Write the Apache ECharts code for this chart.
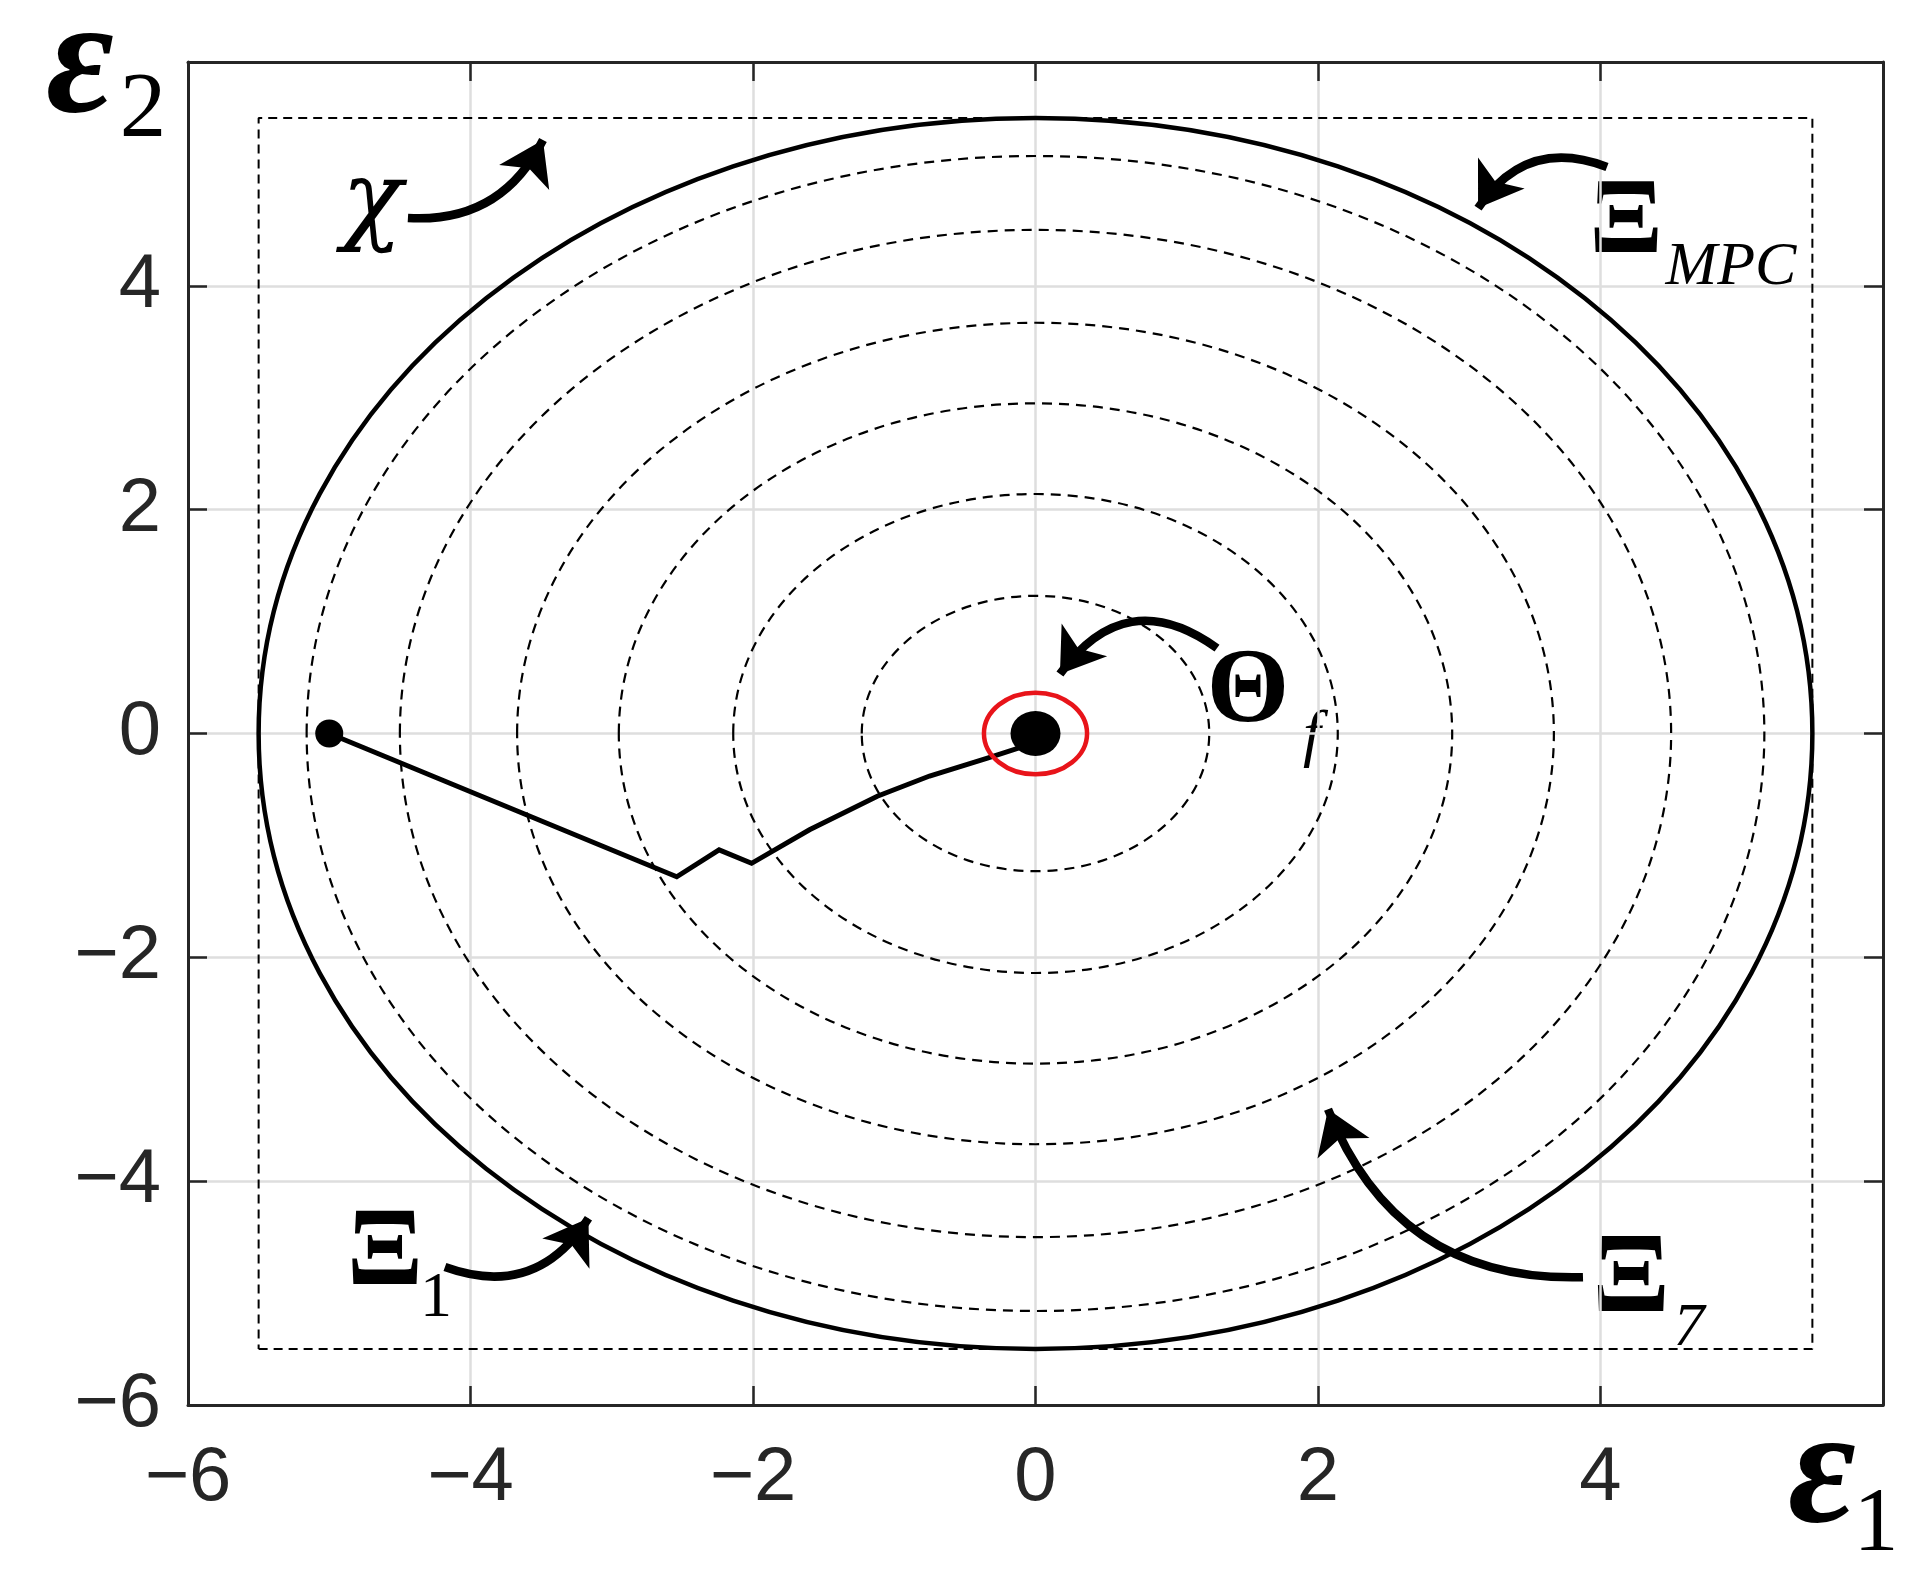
<!DOCTYPE html>
<html><head><meta charset="utf-8">
<script src="https://cdn.jsdelivr.net/npm/echarts@6/dist/echarts.min.js"></script>
<style>html,body{margin:0;padding:0;background:#fff}#c{width:1925px;height:1592px}</style>
</head><body><div id="c"></div>
<script>
// ---- data ----
const xTicks = [-6, -4, -2, 0, 2, 4, 6];
const yTicks = [-6, -4, -2, 0, 2, 4, 6];
const levelRadii = [1.23, 2.14, 2.95, 3.67, 4.50, 5.16];   // dashed level sets
const mpcRadius = [5.5];                                   // Ξ_MPC (solid)
const terminalRadius = [0.365];                            // Θ_f (red)
const boxX = [-5.5, 5.5, 5.5, -5.5, -5.5];                 // state constraint set X
const boxY = [-5.5, -5.5, 5.5, 5.5, -5.5];
const trajX = [-5.0, -2.54, -2.24, -2.01, -1.60, -1.12, -0.75, -0.34, -0.12, 0.0];
const trajY = [0.0, -1.28, -1.04, -1.16, -0.86, -0.56, -0.38, -0.22, -0.13, 0.0];
const startPoint = [-5.0, 0.0];
const endPoint = [0.0, 0.0];
// annotation arrows: from, to, curveness
const arrowFromX = [-4.443, 4.046, 1.285, -4.181, 3.876];
const arrowFromY = [4.606, 5.062, 0.763, -4.768, -4.858];
const arrowToX = [-3.487, 3.133, 0.173, -3.165, 2.071];
const arrowToY = [5.303, 4.695, 0.531, -4.331, -3.357];
const arrowCurve = [-0.33, -0.4, -0.5, -0.4, 0.35];

const fmt = v => (v === 6 ? '' : (v < 0 ? '\u2212' + Math.abs(v) : String(v)));
const axisCol = '#262626';

function ellipseItem(style) {
  return function (params, api) {
    const c = api.coord([0, 0]);
    const r = api.value(0);
    const s = api.size([r, r]);
    return { type: 'ellipse', shape: { cx: c[0], cy: c[1], rx: s[0], ry: s[1] }, style: style };
  };
}

const chart = echarts.init(document.getElementById('c'));
const baseX = { type: 'value', min: -6, max: 6, interval: 2 };
const baseY = { type: 'value', min: -6, max: 6, interval: 2 };
const serif = 'Liberation Serif, DejaVu Serif, serif';
chart.setOption({
  backgroundColor: '#fff',
  animation: false,
  grid: { left: 188, right: 42, top: 62, bottom: 187 },
  xAxis: [
    Object.assign({}, baseX, {
      position: 'bottom',
      axisLine: { show: true, onZero: false, lineStyle: { color: axisCol, width: 3 } },
      axisTick: { show: true, inside: true, length: 19, lineStyle: { color: axisCol, width: 2.5 } },
      axisLabel: { fontSize: 76, fontFamily: 'Liberation Sans', color: axisCol, margin: 36, formatter: fmt },
      splitLine: { show: true, lineStyle: { color: '#dedede', width: 2.5 } }
    }),
    Object.assign({}, baseX, {
      position: 'top',
      axisLine: { show: true, onZero: false, lineStyle: { color: axisCol, width: 3 } },
      axisTick: { show: true, inside: true, length: 19, lineStyle: { color: axisCol, width: 2.5 } },
      axisLabel: { show: false }, splitLine: { show: false }
    })
  ],
  yAxis: [
    Object.assign({}, baseY, {
      position: 'left',
      axisLine: { show: true, onZero: false, lineStyle: { color: axisCol, width: 3 } },
      axisTick: { show: true, inside: true, length: 19, lineStyle: { color: axisCol, width: 2.5 } },
      axisLabel: { fontSize: 76, fontFamily: 'Liberation Sans', color: axisCol, margin: 27, formatter: fmt, padding: [16, 0, 0, 0] },
      splitLine: { show: true, lineStyle: { color: '#dedede', width: 2.5 } }
    }),
    Object.assign({}, baseY, {
      position: 'right',
      axisLine: { show: true, onZero: false, lineStyle: { color: axisCol, width: 3 } },
      axisTick: { show: true, inside: true, length: 19, lineStyle: { color: axisCol, width: 2.5 } },
      axisLabel: { show: false }, splitLine: { show: false }
    })
  ],
  series: [
    { type: 'custom', coordinateSystem: 'cartesian2d', z: 2, silent: true,
      data: levelRadii.map(r => [r]),
      renderItem: ellipseItem({ fill: 'none', stroke: '#000', lineWidth: 2.2, lineDash: [10, 7] }) },
    { type: 'custom', coordinateSystem: 'cartesian2d', z: 3, silent: true,
      data: mpcRadius.map(r => [r]),
      renderItem: ellipseItem({ fill: 'none', stroke: '#000', lineWidth: 4.5 }) },
    { type: 'line', z: 3, silent: true, symbol: 'none',
      data: boxX.map((x, i) => [x, boxY[i]]),
      lineStyle: { color: '#000', width: 2, type: [9, 6] } },
    { type: 'line', z: 4, silent: true, symbol: 'none',
      data: trajX.map((x, i) => [x, trajY[i]]),
      lineStyle: { color: '#000', width: 5, join: 'miter' } },
    { type: 'scatter', z: 5, silent: true, symbol: 'circle', symbolSize: 28,
      itemStyle: { color: '#000', opacity: 1 }, data: [startPoint] },
    { type: 'custom', coordinateSystem: 'cartesian2d', z: 5, silent: true,
      data: terminalRadius.map(r => [r]),
      renderItem: ellipseItem({ fill: 'none', stroke: '#e8141a', lineWidth: 4.5 }) },
    { type: 'scatter', z: 6, silent: true, symbol: 'circle', symbolSize: [50, 45],
      itemStyle: { color: '#000', opacity: 1 }, data: [endPoint] },
    { type: 'lines', coordinateSystem: 'cartesian2d', z: 7, silent: true,
      symbol: ['none', 'arrow'], symbolSize: [0, 42],
      lineStyle: { color: '#000', width: 8.5, opacity: 1 },
      data: arrowFromX.map((x, i) => ({
        coords: [[x, arrowFromY[i]], [arrowToX[i], arrowToY[i]]],
        lineStyle: { curveness: arrowCurve[i] }
      })) }
  ],
  graphic: [
    { type: 'text', x: 80, y: 68, style: { text: '\u03b5', fontSize: 165, fontFamily: serif, fontWeight: 'bold', fontStyle: 'italic', fill: '#000', align: 'center', verticalAlign: 'middle' } },
    { type: 'text', x: 143, y: 112, style: { text: '2', fontSize: 93, fontFamily: serif, fill: '#000', align: 'center', verticalAlign: 'middle' } },
    { type: 'text', x: 1822, y: 1478, style: { text: '\u03b5', fontSize: 165, fontFamily: serif, fontWeight: 'bold', fontStyle: 'italic', fill: '#000', align: 'center', verticalAlign: 'middle' } },
    { type: 'text', x: 1876, y: 1526, style: { text: '1', fontSize: 90, fontFamily: serif, fill: '#000', align: 'center', verticalAlign: 'middle' } },
    { type: 'text', x: 372, y: 205, style: { text: '\u03c7', fontSize: 100, fontFamily: 'DejaVu Serif', fontStyle: 'italic', fill: '#000', align: 'center', verticalAlign: 'middle' } },
    { type: 'text', x: 1626, y: 224, style: { text: '\u039e', fontSize: 108, fontFamily: serif, fontWeight: 'bold', fill: '#000', align: 'center', verticalAlign: 'middle' } },
    { type: 'text', x: 1731, y: 268, style: { text: 'MPC', fontSize: 62, fontFamily: serif, fontStyle: 'italic', fill: '#000', align: 'center', verticalAlign: 'middle' } },
    { type: 'text', x: 1248, y: 694, style: { text: '\u0398', fontSize: 106, fontFamily: serif, fontWeight: 'bold', fill: '#000', align: 'center', verticalAlign: 'middle' } },
    { type: 'text', x: 1312, y: 737, style: { text: 'f', fontSize: 64, fontFamily: serif, fontStyle: 'italic', fill: '#000', align: 'center', verticalAlign: 'middle' } },
    { type: 'text', x: 385, y: 1255, style: { text: '\u039e', fontSize: 112, fontFamily: serif, fontWeight: 'bold', fill: '#000', align: 'center', verticalAlign: 'middle' } },
    { type: 'text', x: 436, y: 1299, style: { text: '1', fontSize: 64, fontFamily: serif, fill: '#000', align: 'center', verticalAlign: 'middle' } },
    { type: 'text', x: 1631, y: 1282, style: { text: '\u039e', fontSize: 114, fontFamily: serif, fontWeight: 'bold', fill: '#000', align: 'center', verticalAlign: 'middle' } },
    { type: 'text', x: 1689, y: 1329, style: { text: '7', fontSize: 62, fontFamily: serif, fontStyle: 'italic', fill: '#000', align: 'center', verticalAlign: 'middle' } }
  ]
});
</script></body></html>
